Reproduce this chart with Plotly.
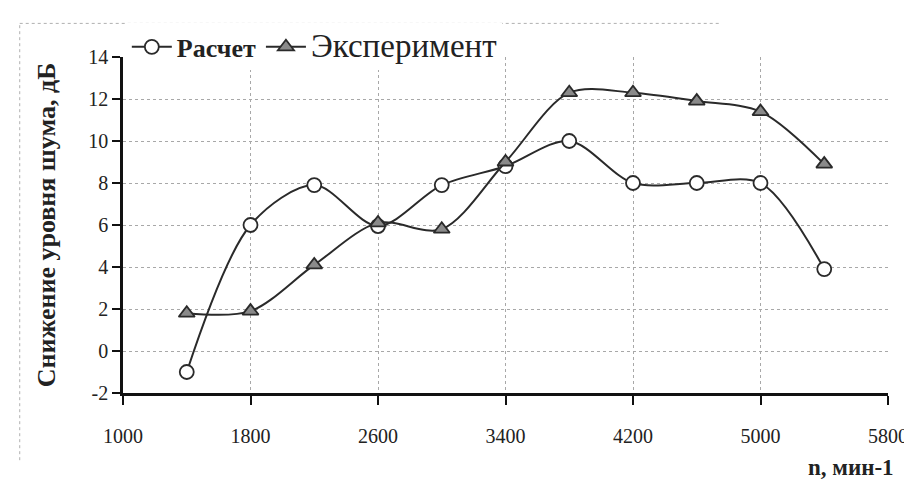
import plotly.graph_objects as go

rpm = [1400, 1800, 2200, 2600, 3000, 3400, 3800, 4200, 4600, 5000, 5400]
calc = [-1.0, 6.0, 7.9, 5.95, 7.9, 8.8, 10.0, 8.0, 8.0, 8.0, 3.9]
exper = [1.8, 1.9, 4.1, 6.1, 5.8, 9.0, 12.3, 12.3, 11.9, 11.4, 8.9]
x_ticks = [1000, 1800, 2600, 3400, 4200, 5000, 5800]
y_ticks = [-2, 0, 2, 4, 6, 8, 10, 12, 14]

serif = "Liberation Serif"
line_col = "#2a2a2a"

fig = go.Figure()
fig.add_trace(go.Scatter(
    x=rpm, y=calc, name="<b>Расчет</b>", mode="lines+markers",
    line=dict(color=line_col, width=2, shape="spline", smoothing=0.9),
    marker=dict(symbol="circle", size=14, color="white",
                line=dict(color=line_col, width=1.8)),
))
fig.add_trace(go.Scatter(
    x=rpm, y=exper, name="<span style='font-size:33px'>Эксперимент</span>",
    mode="lines+markers",
    line=dict(color=line_col, width=2, shape="spline", smoothing=0.9),
    marker=dict(symbol="triangle-up", size=14, color="#8a8a8a",
                line=dict(color=line_col, width=1.8)),
))

fig.update_layout(
    width=912, height=481,
    margin=dict(l=115, r=32, t=49, b=96),
    paper_bgcolor="white", plot_bgcolor="white",
    font=dict(family=serif, size=20, color="#222"),
    showlegend=True,
    legend=dict(orientation="h", x=0.005, y=1.03, xanchor="left", yanchor="middle",
                bgcolor="white", font=dict(family=serif, size=26, color="#222"),
                itemwidth=40, traceorder="normal", tracegroupgap=0),
    xaxis=dict(
        range=[1000, 5800], tickvals=x_ticks, ticktext=[str(v) for v in x_ticks],
        showline=True, linecolor="#111", linewidth=2.5,
        ticks="outside", ticklen=9, tickwidth=2, tickcolor="#111",
        ticklabelstandoff=14,
        showgrid=True, gridcolor="#a8a8a8", griddash="dot", gridwidth=1,
        zeroline=False, tickfont=dict(family=serif, size=20, color="#222"),
        title=None,
    ),
    yaxis=dict(
        range=[-2, 14], tickvals=y_ticks, ticktext=[str(v) for v in y_ticks],
        showline=True, linecolor="#111", linewidth=2.5,
        ticks="outside", ticklen=8, tickwidth=2, tickcolor="#111",
        showgrid=True, gridcolor="#a8a8a8", griddash="dot", gridwidth=1,
        zeroline=False, tickfont=dict(family=serif, size=20, color="#222"),
        title=dict(text="<b>Снижение уровня шума, дБ</b>",
                   font=dict(family=serif, size=26, color="#222"), standoff=26),
    ),
)

fig.add_annotation(
    text="<b>n, мин-1</b>", xref="paper", yref="paper",
    x=1.01, y=-0.222, xanchor="right", yanchor="middle", showarrow=False,
    font=dict(family=serif, size=23, color="#222"),
)

# faint chart-area border
fig.add_shape(type="line", xref="paper", yref="paper", x0=-0.135, x1=0.78, y0=1.1, y1=1.1,
              line=dict(color="#b0b0b0", width=1, dash="dot"))
fig.add_shape(type="line", xref="paper", yref="paper", x0=-0.135, x1=-0.135, y0=-0.2, y1=1.1,
              line=dict(color="#b0b0b0", width=1, dash="dot"))
fig.add_shape(type="line", xref="paper", yref="paper", x0=-0.135, x1=0.7, y0=-0.27, y1=-0.27,
              line=dict(color="#b0b0b0", width=1, dash="dot"))

fig.write_html("out.html")
